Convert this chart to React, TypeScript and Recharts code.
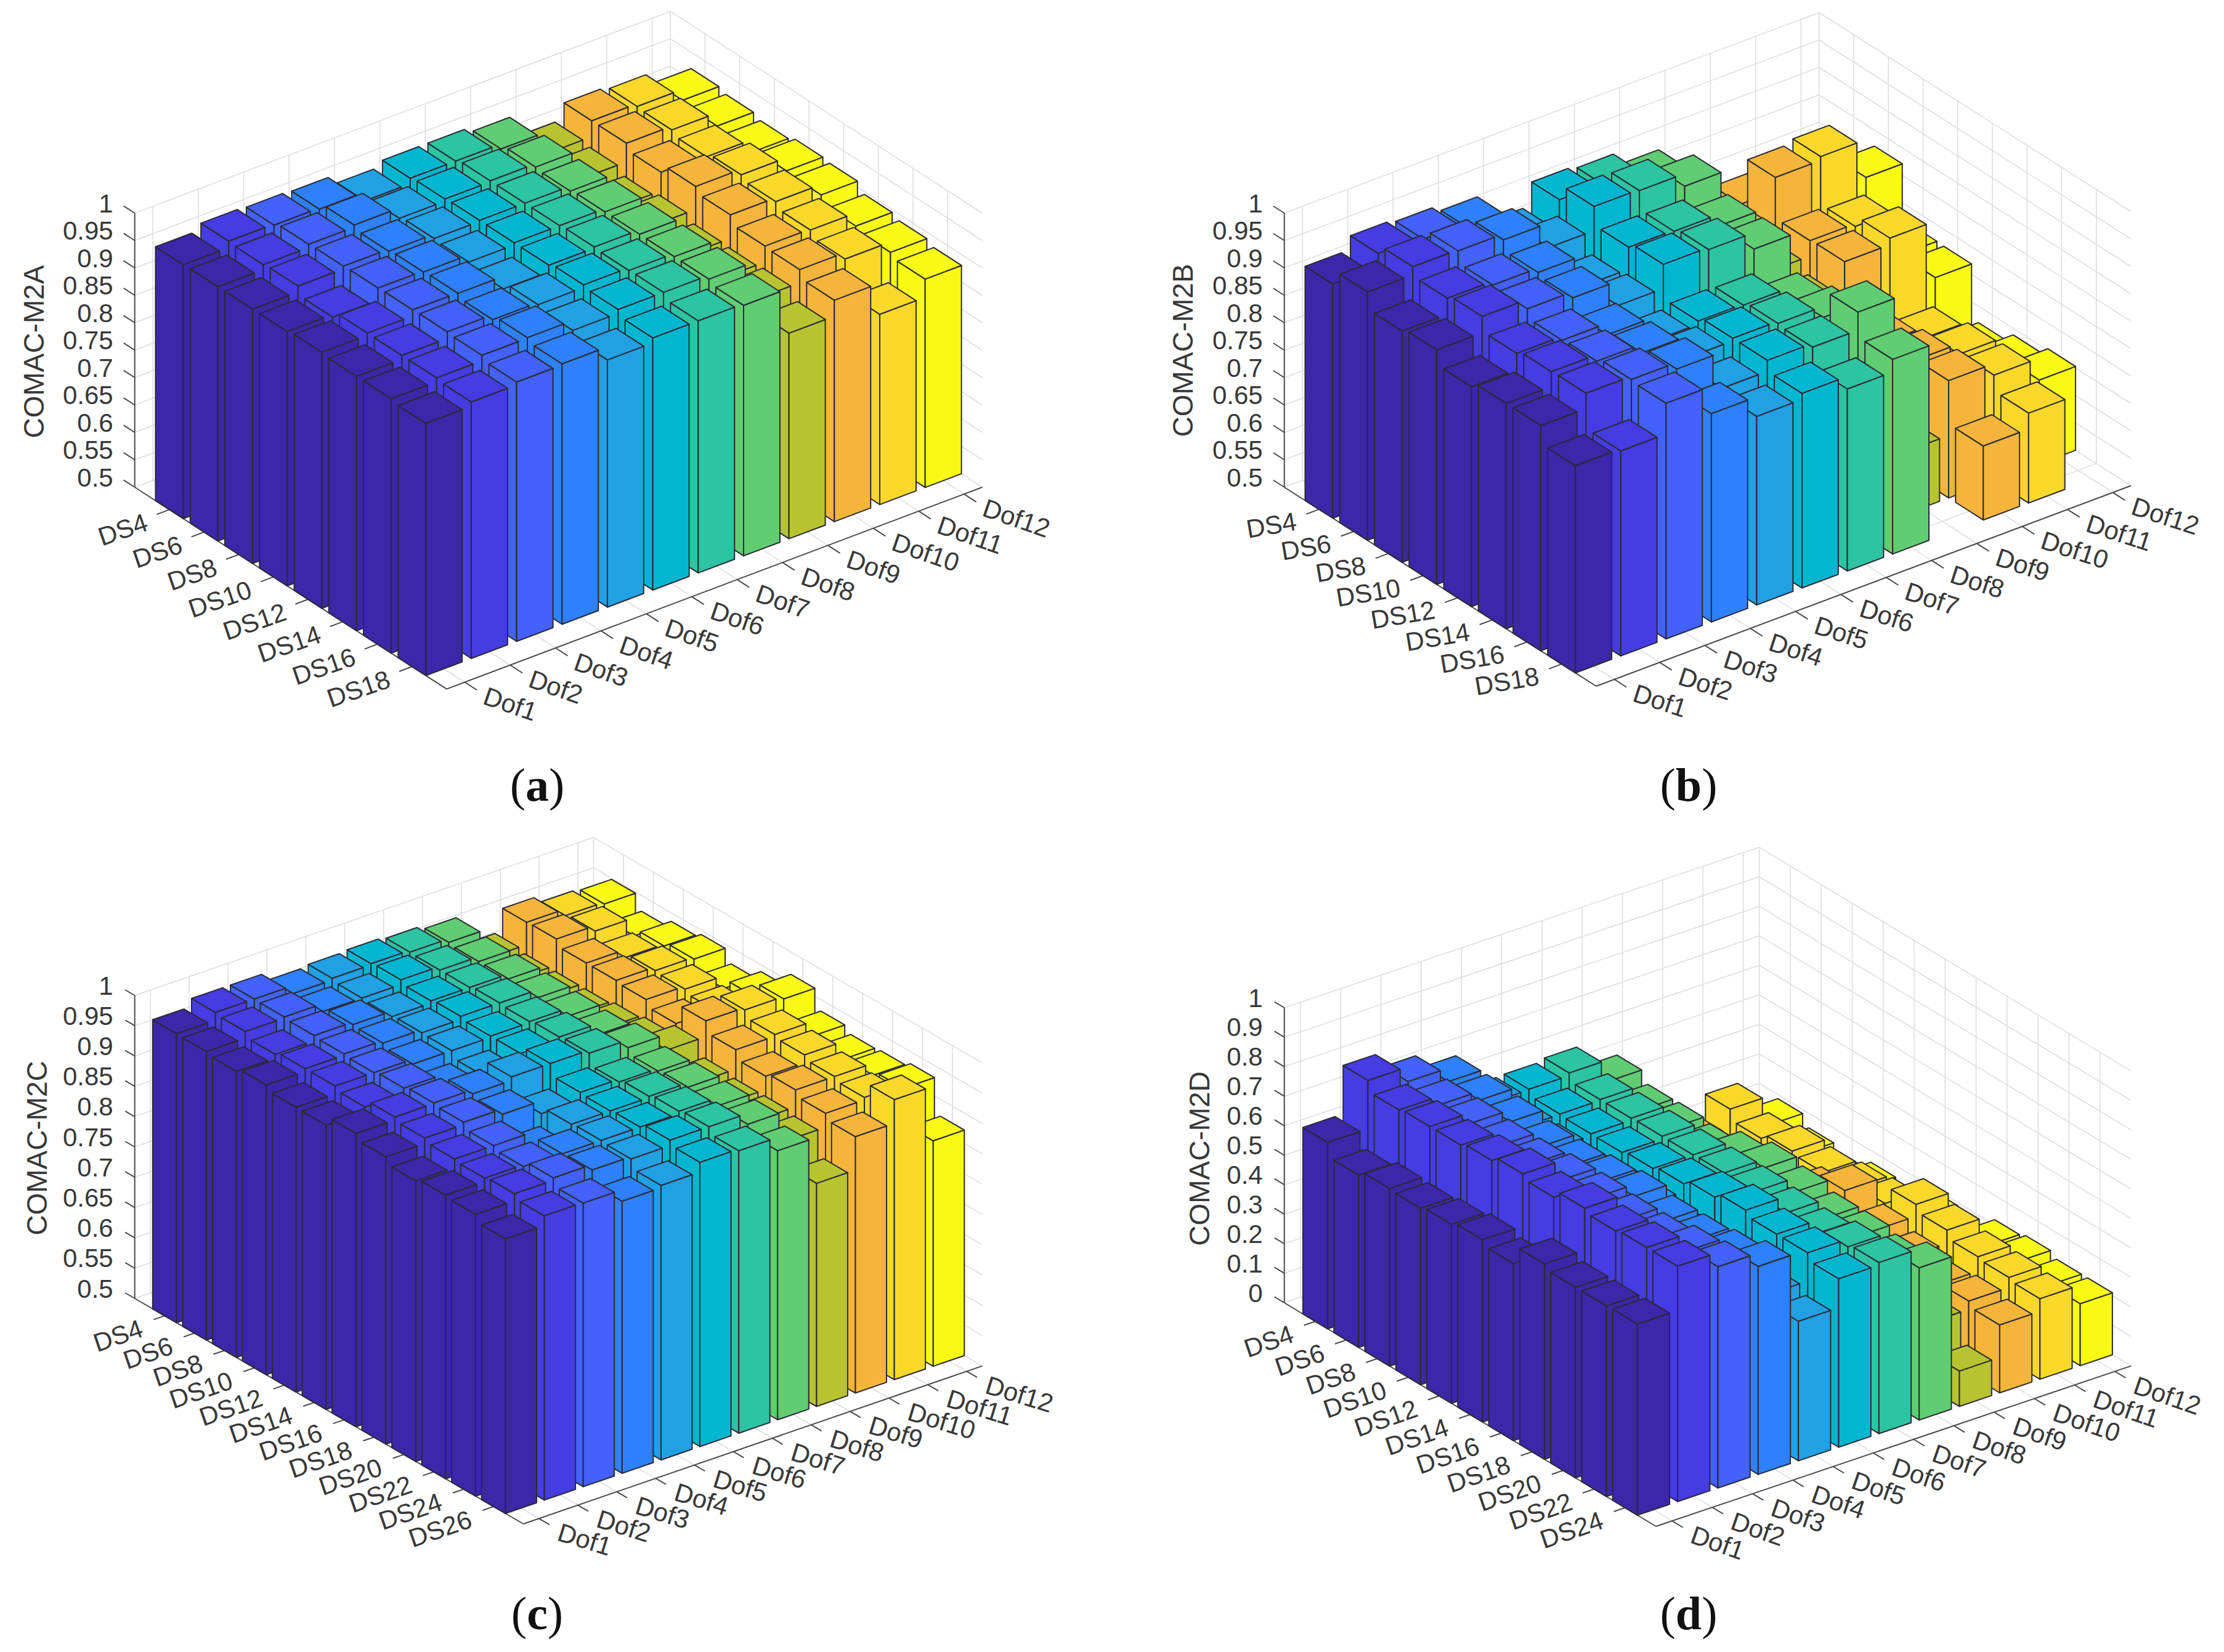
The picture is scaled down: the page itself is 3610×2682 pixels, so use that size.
import { ScatterChart, Scatter, XAxis, YAxis, ReferenceLine } from "recharts";

const PANEL_W = 1805;
const PANEL_H = 1341;

const dofLabels = ["Dof1", "Dof2", "Dof3", "Dof4", "Dof5", "Dof6", "Dof7", "Dof8", "Dof9", "Dof10", "Dof11", "Dof12"];
const dsLabels8 = ["DS4", "DS6", "DS8", "DS10", "DS12", "DS14", "DS16", "DS18"];
const dsLabels11 = [...dsLabels8, "DS20", "DS22", "DS24"];
const dsLabels12 = [...dsLabels11, "DS26"];
const zTicksHigh = [0.5, 0.55, 0.6, 0.65, 0.7, 0.75, 0.8, 0.85, 0.9, 0.95, 1];
const zTicksFull = [0, 0.1, 0.2, 0.3, 0.4, 0.5, 0.6, 0.7, 0.8, 0.9, 1];
const dofColors = ["#3c27a8", "#453ce2", "#4361fb", "#2e81fa", "#22a0e4", "#02b6cf", "#2cc4a3", "#60cd72", "#b8c42f", "#f5b53a", "#f9d829", "#f9fa14"];

// one row per Dof, one column per DS
const m2aValues = [
  [0.963, 0.964, 0.964, 0.964, 0.967, 0.964, 0.964, 0.96],
  [0.975, 0.973, 0.975, 0.959, 0.971, 0.971, 0.971, 0.968],
  [0.973, 0.979, 0.98, 0.981, 0.982, 0.983, 0.981, 0.973],
  [0.971, 0.983, 0.976, 0.979, 0.981, 0.974, 0.982, 0.975],
  [0.955, 0.964, 0.968, 0.966, 0.958, 0.97, 0.964, 0.951],
  [0.965, 0.968, 0.97, 0.97, 0.97, 0.975, 0.971, 0.96],
  [0.965, 0.97, 0.97, 0.97, 0.972, 0.97, 0.971, 0.96],
  [0.956, 0.964, 0.961, 0.964, 0.964, 0.964, 0.964, 0.957],
  [0.916, 0.911, 0.899, 0.906, 0.894, 0.892, 0.895, 0.875],
  [0.945, 0.945, 0.933, 0.948, 0.937, 0.921, 0.919, 0.904],
  [0.94, 0.938, 0.93, 0.938, 0.93, 0.919, 0.907, 0.847],
  [0.92, 0.914, 0.907, 0.914, 0.911, 0.895, 0.888, 0.88],
];
const m2bValues = [
  [0.927, 0.953, 0.922, 0.928, 0.901, 0.911, 0.911, 0.878],
  [0.952, 0.968, 0.951, 0.958, 0.931, 0.938, 0.939, 0.874],
  [0.947, 0.966, 0.944, 0.941, 0.924, 0.926, 0.933, 0.93],
  [0.936, 0.955, 0.936, 0.93, 0.903, 0.91, 0.921, 0.88],
  [0.884, 0.91, 0.88, 0.885, 0.86, 0.87, 0.855, 0.844],
  [0.926, 0.954, 0.92, 0.929, 0.866, 0.875, 0.875, 0.855],
  [0.921, 0.952, 0.918, 0.925, 0.864, 0.871, 0.868, 0.832],
  [0.898, 0.929, 0.897, 0.895, 0.835, 0.851, 0.901, 0.855],
  [0.78, 0.81, 0.78, 0.76, 0.68, 0.66, 0.614, 0.45],
  [0.794, 0.883, 0.808, 0.81, 0.7, 0.71, 0.714, 0.635],
  [0.77, 0.89, 0.803, 0.822, 0.68, 0.691, 0.693, 0.664],
  [0.75, 0.821, 0.72, 0.719, 0.62, 0.638, 0.653, 0.45],
];
const m2cValues = [
  [0.977, 0.976, 0.972, 0.978, 0.97, 0.969, 0.984, 0.974, 0.963, 0.968, 0.965, 0.953],
  [0.99, 0.987, 0.978, 0.983, 0.983, 0.977, 0.989, 0.983, 0.977, 0.974, 0.977, 0.969],
  [0.99, 0.989, 0.987, 0.985, 0.983, 0.986, 0.99, 0.987, 0.977, 0.971, 0.981, 0.968],
  [0.977, 0.976, 0.983, 0.981, 0.975, 0.964, 0.983, 0.978, 0.946, 0.97, 0.972, 0.949],
  [0.98, 0.976, 0.974, 0.976, 0.975, 0.964, 0.989, 0.957, 0.968, 0.97, 0.968, 0.953],
  [0.982, 0.984, 0.978, 0.981, 0.977, 0.977, 0.989, 0.97, 0.968, 0.97, 0.977, 0.969],
  [0.979, 0.978, 0.978, 0.981, 0.979, 0.982, 0.984, 0.965, 0.97, 0.974, 0.977, 0.966],
  [0.973, 0.97, 0.97, 0.968, 0.966, 0.964, 0.971, 0.961, 0.963, 0.961, 0.959, 0.944],
  [0.925, 0.92, 0.92, 0.92, 0.925, 0.93, 0.945, 0.92, 0.915, 0.915, 0.91, 0.868],
  [0.962, 0.963, 0.952, 0.952, 0.949, 0.938, 0.971, 0.952, 0.937, 0.943, 0.933, 0.923],
  [0.951, 0.954, 0.939, 0.946, 0.944, 0.938, 0.967, 0.955, 0.95, 0.943, 0.937, 0.962],
  [0.948, 0.924, 0.936, 0.943, 0.923, 0.939, 0.963, 0.931, 0.921, 0.923, 0.93, 0.872],
];
const m2dValues = [
  [0.632, 0.584, 0.602, 0.598, 0.607, 0.618, 0.6, 0.662, 0.646, 0.646, 0.648],
  [0.796, 0.759, 0.766, 0.766, 0.777, 0.795, 0.779, 0.805, 0.791, 0.798, 0.798],
  [0.746, 0.73, 0.73, 0.72, 0.72, 0.73, 0.73, 0.72, 0.72, 0.74, 0.75],
  [0.7, 0.7, 0.69, 0.67, 0.67, 0.68, 0.69, 0.67, 0.67, 0.68, 0.705],
  [0.58, 0.56, 0.55, 0.54, 0.55, 0.55, 0.53, 0.5, 0.48, 0.5, 0.473],
  [0.582, 0.561, 0.557, 0.557, 0.566, 0.577, 0.595, 0.614, 0.596, 0.596, 0.571],
  [0.591, 0.564, 0.564, 0.566, 0.566, 0.568, 0.568, 0.559, 0.552, 0.57, 0.58],
  [0.518, 0.482, 0.484, 0.475, 0.512, 0.539, 0.521, 0.496, 0.496, 0.48, 0.516],
  [0.3, 0.3, 0.28, 0.28, 0.3, 0.3, 0.28, 0.27, 0.25, 0.22, 0.12],
  [0.22, 0.2, 0.2, 0.22, 0.3, 0.37, 0.3, 0.27, 0.24, 0.248, 0.23],
  [0.284, 0.248, 0.268, 0.259, 0.27, 0.28, 0.34, 0.316, 0.289, 0.282, 0.273],
  [0.186, 0.15, 0.13, 0.16, 0.14, 0.19, 0.16, 0.218, 0.227, 0.21, 0.21],
];

interface Pt { x: number; y: number }
interface PanelConfig {
  title: string;
  tag: string;
  values: number[][];
  dsLabels: string[];
  zTicks: number[];
  left: number;
  top: number;
  // floor corners and wall height in panel pixels (the view of the matlab axes)
  L: Pt;
  F: Pt;
  R: Pt;
  wallH: number;
  dsAngle: number;
  dofAngle: number;
  titleX: number;
  titleY: number;
  tagX: number;
  tagY: number;
}

const panels: PanelConfig[] = [
  { title: "COMAC-M2A", tag: "a", values: m2aValues, dsLabels: dsLabels8, zTicks: zTicksHigh, left: 0, top: 0,
    L: { x: 218.7, y: 791 }, F: { x: 725, y: 1118.6 }, R: { x: 1594.4, y: 791 }, wallH: 445,
    dsAngle: -19, dofAngle: 19, titleX: 55, titleY: 571, tagX: 872, tagY: 1274 },
  { title: "COMAC-M2B", tag: "b", values: m2bValues, dsLabels: dsLabels8, zTicks: zTicksHigh, left: 1805, top: 0,
    L: { x: 279.7, y: 791 }, F: { x: 786, y: 1114 }, R: { x: 1654, y: 788.5 }, wallH: 445,
    dsAngle: -9.6, dofAngle: 18, titleX: 115, titleY: 569, tagX: 936, tagY: 1274 },
  { title: "COMAC-M2C", tag: "c", values: m2cValues, dsLabels: dsLabels12, zTicks: zTicksHigh, left: 0, top: 1341,
    L: { x: 218.7, y: 767 }, F: { x: 849.6, y: 1133 }, R: { x: 1594.4, y: 876.6 }, wallH: 492,
    dsAngle: -19, dofAngle: 17, titleX: 60, titleY: 523, tagX: 872, tagY: 1278 },
  { title: "COMAC-M2D", tag: "d", values: m2dValues, dsLabels: dsLabels11, zTicks: zTicksFull, left: 1805, top: 1341,
    L: { x: 279.7, y: 774 }, F: { x: 883, y: 1137 }, R: { x: 1654, y: 876.6 }, wallH: 479,
    dsAngle: -19, dofAngle: 19, titleX: 142, titleY: 540, tagX: 936, tagY: 1278 },
];

const TEXT_COLOR = "#383838";
const AXIS_COLOR = "#4a4a4a";
const GRID_COLOR = "#dedede";
const EDGE_COLOR = "#2a2a34";
const DOF_MIN = 0.6;
const DOF_MAX = 12.4;

function makeProjection(p: PanelConfig) {
  const span = DOF_MAX - DOF_MIN;
  const u = { x: (p.R.x - p.F.x) / span, y: (p.R.y - p.F.y) / span };
  const dsSpan = p.dsLabels.length + 1;
  const v = { x: (p.F.x - p.L.x) / dsSpan, y: (p.F.y - p.L.y) / dsSpan };
  const zMin = p.zTicks[0];
  const zMax = p.zTicks[p.zTicks.length - 1];
  const zUnit = p.wallH / (zMax - zMin);
  const project = (dof: number, ds: number, z: number): Pt => ({
    x: p.L.x + (dof - DOF_MIN) * u.x + ds * v.x,
    y: p.L.y + (dof - DOF_MIN) * u.y + ds * v.y - (z - zMin) * zUnit,
  });
  return { u, v, dsSpan, zMin, zMax, zUnit, project };
}

function poly(points: Pt[]) {
  return points.map((q) => `${q.x},${q.y}`).join(" ");
}

function BarShape(props: any) {
  const { cx, cy, payload, du, dv, zUnit, zMin } = props;
  const h = (payload.value - zMin) * zUnit;
  const left = { x: cx, y: cy };
  const front = { x: cx + dv.x, y: cy + dv.y };
  const apex = { x: cx + du.x, y: cy + du.y };
  const right = { x: front.x + du.x, y: front.y + du.y };
  const down = (q: Pt) => ({ x: q.x, y: q.y + h });
  const fill = dofColors[payload.dof];
  return (
    <g fill={fill} stroke={EDGE_COLOR} strokeWidth={2} strokeLinejoin="round">
      <polygon points={poly([left, front, down(front), down(left)])} />
      <polygon points={poly([front, right, down(right), down(front)])} />
      <polygon points={poly([left, front, right, apex])} />
    </g>
  );
}

function LabelShape(props: any) {
  const { cx, cy, payload } = props;
  return (
    <text
      x={cx}
      y={cy}
      fontFamily='"Liberation Sans", Arial, sans-serif'
      fontSize={payload.size}
      fill={TEXT_COLOR}
      textAnchor={payload.anchor}
      dominantBaseline="central"
      transform={payload.angle ? `rotate(${payload.angle} ${cx} ${cy})` : undefined}
    >
      {payload.label}
    </text>
  );
}

function Panel3D({ config }: { config: PanelConfig }) {
  const { project, u, v, dsSpan, zMin, zMax, zUnit } = makeProjection(config);
  const nDs = config.dsLabels.length;
  const dofPositions = dofLabels.map((_, i) => i + 1);
  const dsPositions = config.dsLabels.map((_, i) => i + 1);

  // painter's order: far corner first
  const bars: { x: number; y: number; value: number; dof: number }[] = [];
  for (let s = 0; s < nDs; s++) {
    for (let d = 11; d >= 0; d--) {
      const value = config.values[d][s];
      if (value <= zMin) continue;
      const q = project(d + 1 - 0.4, s + 1 - 0.4, value);
      bars.push({ x: q.x, y: q.y, value, dof: d });
    }
  }

  const grid: [Pt, Pt][] = [];
  const axes: [Pt, Pt][] = [];
  // back walls
  config.zTicks.forEach((z) => {
    grid.push([project(DOF_MIN, 0, z), project(DOF_MAX, 0, z)]);
    grid.push([project(DOF_MAX, 0, z), project(DOF_MAX, dsSpan, z)]);
    axes.push([project(DOF_MIN, 0, z), project(DOF_MIN, -0.32, z)]);
  });
  dofPositions.forEach((d) => {
    grid.push([project(d, 0, zMin), project(d, 0, zMax)]);
    grid.push([project(d, 0, zMin), project(d, dsSpan, zMin)]);
    axes.push([project(d, dsSpan, zMin), project(d, dsSpan + 0.35, zMin)]);
  });
  dsPositions.forEach((s) => {
    grid.push([project(DOF_MAX, s, zMin), project(DOF_MAX, s, zMax)]);
    grid.push([project(DOF_MIN, s, zMin), project(DOF_MAX, s, zMin)]);
    axes.push([project(DOF_MIN, s, zMin), project(DOF_MIN - 0.28, s, zMin)]);
  });
  grid.push([project(DOF_MAX, 0, zMin), project(DOF_MAX, 0, zMax)]);
  axes.push([project(DOF_MIN, 0, zMin), project(DOF_MIN, 0, zMax)]);
  axes.push([project(DOF_MIN, 0, zMin), project(DOF_MIN, dsSpan, zMin)]);
  axes.push([project(DOF_MIN, dsSpan, zMin), project(DOF_MAX, dsSpan, zMin)]);

  const labels: any[] = [];
  config.zTicks.forEach((z) => {
    const q = project(DOF_MIN, 0, z);
    labels.push({ x: q.x - 35, y: q.y - 16, label: String(z), anchor: "end", angle: 0, size: 42 });
  });
  config.dsLabels.forEach((label, i) => {
    const q = project(DOF_MIN, i + 1, zMin);
    labels.push({ x: q.x - 37, y: q.y + 19, label, anchor: "end", angle: config.dsAngle, size: 42 });
  });
  dofLabels.forEach((label, i) => {
    const q = project(i + 1, dsSpan, zMin);
    labels.push({ x: q.x + 32, y: q.y + 21, label, anchor: "start", angle: config.dofAngle, size: 42 });
  });
  labels.push({ x: config.titleX, y: config.titleY, label: config.title, anchor: "middle", angle: -90, size: 46 });

  return (
    <div style={{ position: "absolute", left: config.left, top: config.top, width: PANEL_W, height: PANEL_H }}>
      <ScatterChart width={PANEL_W} height={PANEL_H} margin={{ top: 0, right: 0, bottom: 0, left: 0 }}>
        <XAxis type="number" dataKey="x" domain={[0, PANEL_W]} hide />
        <YAxis type="number" dataKey="y" domain={[0, PANEL_H]} reversed hide />
        {grid.map((seg, i) => (
          <ReferenceLine key={`g${i}`} segment={seg} stroke={GRID_COLOR} strokeWidth={1.6} ifOverflow="visible" />
        ))}
        {axes.map((seg, i) => (
          <ReferenceLine key={`a${i}`} segment={seg} stroke={AXIS_COLOR} strokeWidth={2} ifOverflow="visible" />
        ))}
        <Scatter
          data={bars}
          isAnimationActive={false}
          shape={(p: any) => (
            <BarShape
              {...p}
              du={{ x: u.x * 0.8, y: u.y * 0.8 }}
              dv={{ x: v.x * 0.8, y: v.y * 0.8 }}
              zUnit={zUnit}
              zMin={zMin}
            />
          )}
        />
        <Scatter data={labels} isAnimationActive={false} shape={LabelShape} />
      </ScatterChart>
      <div
        style={{
          position: "absolute",
          left: config.tagX - 100,
          top: config.tagY - 50,
          width: 200,
          height: 100,
          lineHeight: "100px",
          textAlign: "center",
          fontFamily: '"Liberation Serif", serif',
          fontSize: 76,
          color: "#111",
        }}
      >
        (<b>{config.tag}</b>)
      </div>
    </div>
  );
}

export default function App() {
  return (
    <div style={{ position: "absolute", left: 0, top: 0, width: 3610, height: 2682, background: "#fff" }}>
      {panels.map((p) => (
        <Panel3D key={p.tag} config={p} />
      ))}
    </div>
  );
}
